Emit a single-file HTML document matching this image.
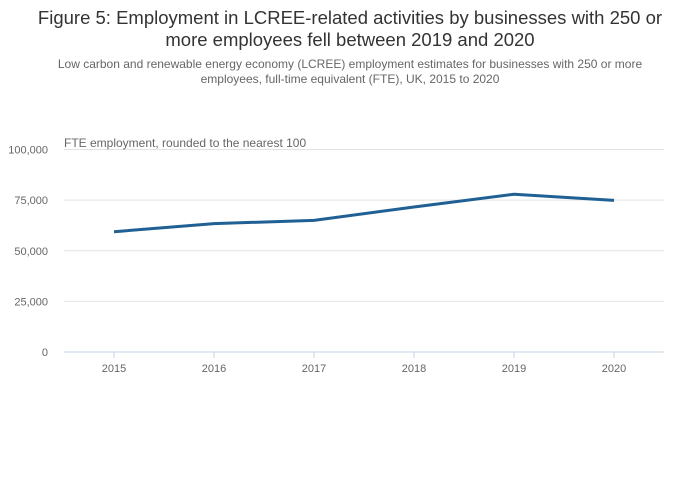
<!DOCTYPE html>
<html><head><meta charset="utf-8"><style>
body{margin:0;width:700px;height:502px;background:#fff;font-family:"Liberation Sans",sans-serif;overflow:hidden}
#title{position:absolute;top:7px;left:25px;width:650px;text-align:center;font-size:18.5px;line-height:22px;color:#333}
#sub{position:absolute;top:57px;left:30px;width:640px;text-align:center;font-size:12px;line-height:15px;color:#666}
svg{position:absolute;left:0;top:0}
</style></head><body>
<div id="title">Figure 5: Employment in LCREE-related activities by businesses with 250 or more employees fell between 2019 and 2020</div>
<div id="sub">Low carbon and renewable energy economy (LCREE) employment estimates for businesses with 250 or more employees, full-time equivalent (FTE), UK, 2015 to 2020</div>
<svg width="700" height="502" id="chart"></svg>
<script>
const categories=["2015","2016","2017","2018","2019","2020"];
const values=[59400,63400,65000,71600,77900,74900];
const yTicks=[0,25000,50000,75000,100000];
const yTickLabels=["0","25,000","50,000","75,000","100,000"];
const ns="http://www.w3.org/2000/svg";
const svg=document.getElementById('chart');
const L=64,R=664,T=149.5,B=352,yMax=100000;
const x=i=>L+(R-L)/categories.length*(i+0.5);
const y=v=>B-(B-T)*v/yMax;
function mk(t,a){const e=document.createElementNS(ns,t);for(const k in a)e.setAttribute(k,a[k]);svg.appendChild(e);return e;}
yTicks.forEach((v,i)=>{
  if(v>0){const g=mk('line',{x1:L,x2:R,y1:y(v),y2:y(v),stroke:'#e2e2e2','stroke-width':1});
  
  }
  const t=mk('text',{x:48,y:y(v)+4,'text-anchor':'end','font-size':'11','fill':'#666'});
  t.textContent=yTickLabels[i];
  
  
});
const ax=mk('line',{x1:L,x2:R,y1:B,y2:B,stroke:'#c6d3e6','stroke-width':1});


categories.forEach((c,i)=>{
  const tk=mk('line',{x1:x(i),x2:x(i),y1:B,y2:B+6,stroke:'#c6d3e6'});
  
  
  const t=mk('text',{x:x(i),y:B+20,'text-anchor':'middle','font-size':'11','fill':'#666'});
  t.textContent=c;
  
  
});
const yt=mk('text',{x:64,y:147,'font-size':'12','fill':'#666'});
yt.textContent='FTE employment, rounded to the nearest 100';


const p=mk('polyline',{points:values.map((v,i)=>x(i)+','+y(v)).join(' '),fill:'none',stroke:'#206095','stroke-width':3,'stroke-linejoin':'round'});


</script>
</body></html>
